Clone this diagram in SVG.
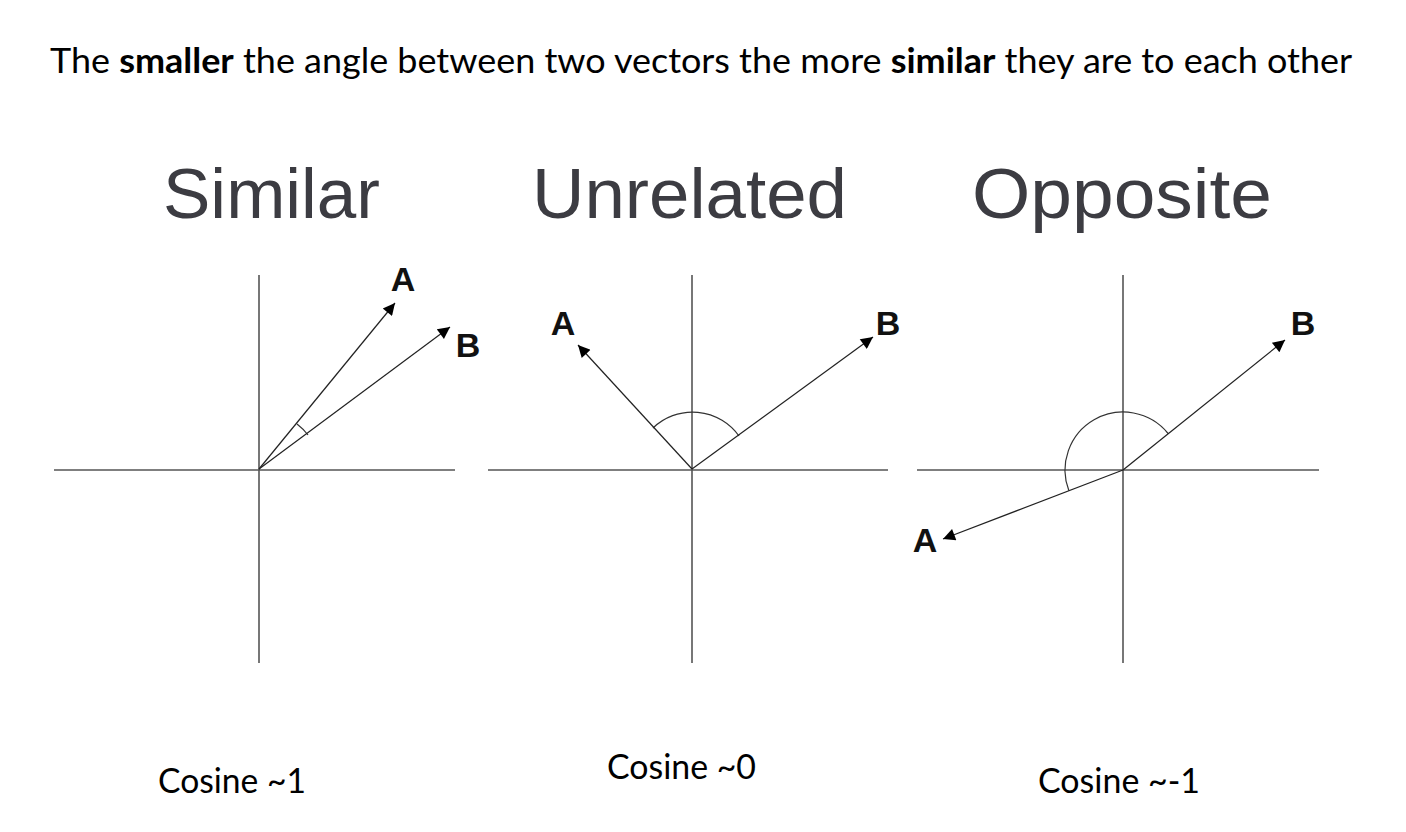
<svg xmlns="http://www.w3.org/2000/svg" width="1406" height="832" viewBox="0 0 1406 832">
<defs>
<style>
.axis{stroke:#555;stroke-width:1.6;fill:none}
.vec{stroke:#222;stroke-width:1.2;fill:none}
.arc{stroke:#333;stroke-width:1.2;fill:none}
.head{font-family:"Liberation Sans",Arial,sans-serif;font-size:71px;fill:#3c3c42}
.lbl{font-family:"Liberation Sans",Arial,sans-serif;font-size:34px;font-weight:bold;fill:#111}
.cal{font-family:Lato,"Liberation Sans",sans-serif;font-size:35px;fill:#000}
</style>
<marker id="ah" viewBox="0 0 10 10" refX="10" refY="5" markerWidth="14" markerHeight="12" markerUnits="userSpaceOnUse" orient="auto">
<path d="M0,0 L10,5 L0,10 Z" fill="#000"/>
</marker>
</defs>
<rect width="1406" height="832" fill="#fff"/>
<g id="title">
<text class="cal" x="50" y="73" textLength="1302" lengthAdjust="spacingAndGlyphs">The <tspan font-weight="bold">smaller</tspan> the angle between two vectors the more <tspan font-weight="bold">similar</tspan> they are to each other</text>
</g>
<g id="panel-similar">
<text class="head" x="163" y="218" textLength="217" lengthAdjust="spacingAndGlyphs">Similar</text>
<line class="axis" x1="259" y1="275" x2="259" y2="663"/>
<line class="axis" x1="54" y1="470" x2="455" y2="470"/>
<path class="arc" d="M297,424 A60,60 0 0 1 308,435"/>
<text class="lbl" x="403" y="291" text-anchor="middle">A</text>
<text class="lbl" x="468" y="357" text-anchor="middle">B</text>
<text class="cal" x="158" y="793" textLength="148" lengthAdjust="spacingAndGlyphs">Cosine ~1</text>
</g>
<g id="panel-unrelated">
<text class="head" x="532" y="218" textLength="315" lengthAdjust="spacingAndGlyphs">Unrelated</text>
<line class="axis" x1="692" y1="275" x2="692" y2="663"/>
<line class="axis" x1="488" y1="470" x2="888" y2="470"/>
<path class="arc" d="M653,428 A57,57 0 0 1 739,436"/>
<text class="lbl" x="563" y="335" text-anchor="middle">A</text>
<text class="lbl" x="888" y="335" text-anchor="middle">B</text>
<text class="cal" x="607" y="779" textLength="149" lengthAdjust="spacingAndGlyphs">Cosine ~0</text>
</g>
<g id="panel-opposite">
<text class="head" x="972" y="218" textLength="300" lengthAdjust="spacingAndGlyphs">Opposite</text>
<line class="axis" x1="1123" y1="275" x2="1123" y2="663"/>
<line class="axis" x1="917" y1="470" x2="1319" y2="470"/>
<path class="arc" d="M1068.9,490.8 A58,58 0 0 1 1168.1,433.5"/>
<text class="lbl" x="925" y="552" text-anchor="middle">A</text>
<text class="lbl" x="1303" y="335" text-anchor="middle">B</text>
<text class="cal" x="1038" y="793" textLength="162" lengthAdjust="spacingAndGlyphs">Cosine ~-1</text>
</g>
<g id="connectors">
<line class="vec" x1="259" y1="469" x2="395" y2="303" marker-end="url(#ah)"/>
<line class="vec" x1="259" y1="469" x2="450" y2="327" marker-end="url(#ah)"/>
<line class="vec" x1="692" y1="469" x2="578" y2="345" marker-end="url(#ah)"/>
<line class="vec" x1="692" y1="469" x2="873" y2="337" marker-end="url(#ah)"/>
<line class="vec" x1="1123" y1="470" x2="1285" y2="340" marker-end="url(#ah)"/>
<line class="vec" x1="1123" y1="470" x2="943" y2="539" marker-end="url(#ah)"/>
</g>
</svg>
